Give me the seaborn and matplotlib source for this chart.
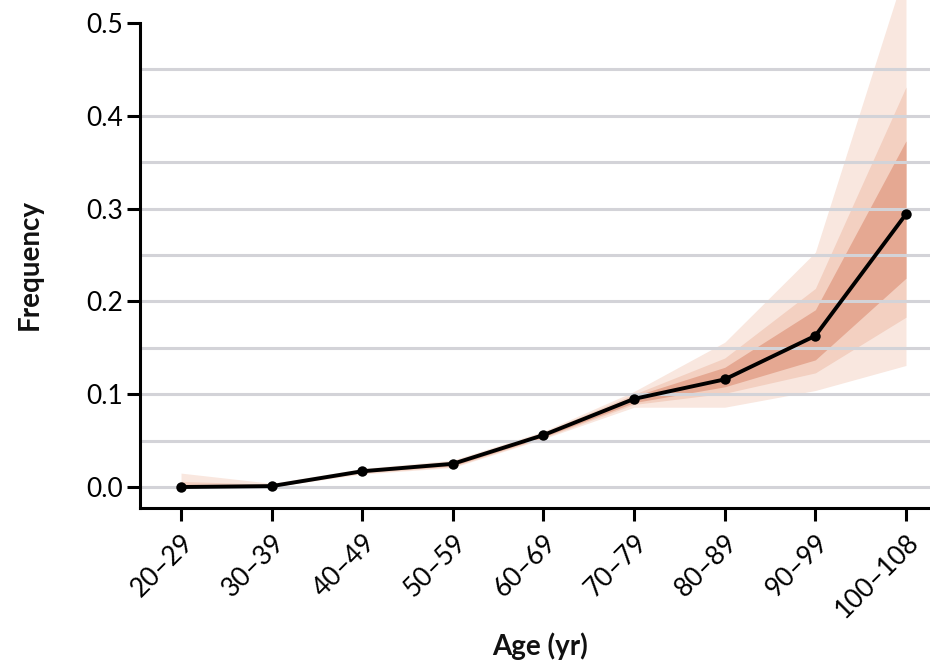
import numpy as np
import pandas as pd
import matplotlib
matplotlib.use("Agg")
import matplotlib.pyplot as plt
import seaborn as sns

ages = ["20–29", "30–39", "40–49", "50–59", "60–69", "70–79", "80–89", "90–99", "100–108"]
freq = [0.0, 0.001, 0.017, 0.025, 0.056, 0.095, 0.116, 0.163, 0.294]
outer_lo = [0.0, 0.0, 0.014, 0.021, 0.052, 0.086, 0.086, 0.104, 0.131]
outer_hi = [0.015, 0.004, 0.020, 0.029, 0.060, 0.103, 0.156, 0.253, 0.560]
mid_lo = [0.0, 0.0, 0.015, 0.022, 0.053, 0.089, 0.101, 0.123, 0.183]
mid_hi = [0.006, 0.003, 0.019, 0.028, 0.059, 0.100, 0.139, 0.214, 0.431]
inner_lo = [0.0, 0.0, 0.016, 0.023, 0.054, 0.091, 0.108, 0.137, 0.225]
inner_hi = [0.003, 0.002, 0.018, 0.027, 0.058, 0.098, 0.129, 0.191, 0.373]
yticks = [0.0, 0.1, 0.2, 0.3, 0.4, 0.5]
grid_vals = [0.0, 0.05, 0.10, 0.15, 0.20, 0.25, 0.30, 0.35, 0.40, 0.45]

sns.set_theme(style="white")
plt.rcParams['font.family'] = ['Lato', 'DejaVu Sans']
plt.rcParams['text.color'] = 'black'
plt.rcParams['axes.labelcolor'] = 'black'

df = pd.DataFrame({"pos": np.arange(len(ages)), "freq": freq})

fig = plt.figure(figsize=(9.3, 6.63), dpi=100)
ax = fig.add_axes([140/930, 1 - 508/663, 1 - 140/930, 508/663])

pos = df["pos"].values
ax.fill_between(pos, outer_lo, outer_hi, color="#f9e7df", lw=0, zorder=1)
ax.fill_between(pos, mid_lo, mid_hi, color="#f3d0c1", lw=0, zorder=1.1)
ax.fill_between(pos, inner_lo, inner_hi, color="#e5a892", lw=0, zorder=1.2)

for g in grid_vals:
    ax.axhline(g, color="#d3d3d8", lw=2.2, zorder=2)

sns.lineplot(data=df, x="pos", y="freq", ax=ax, color="black", lw=2.8,
             marker="o", markersize=7.5, markeredgewidth=0, zorder=3)

ax.set_xlim(-0.4525, 8.265)
ax.set_ylim(-0.0226, 0.5248)
ax.set_yticks(yticks)
ax.set_yticklabels([f"{v:.1f}" for v in yticks])
ax.set_xticks(pos)
ax.set_xticklabels(ages, rotation=45, ha="right", va="top", rotation_mode="anchor")

for side in ["top", "right"]:
    ax.spines[side].set_visible(False)
for side in ["left", "bottom"]:
    ax.spines[side].set_color("black")
    ax.spines[side].set_linewidth(2.2)
ax.spines["left"].set_bounds(-0.0226, 0.5)

ax.tick_params(axis="both", which="major", direction="out", length=9.5, width=2.2,
               color="black", labelsize=19, labelcolor="black", left=True, bottom=True)
ax.tick_params(axis="y", pad=3)
ax.tick_params(axis="x", pad=6)

ax.set_xlabel("Age (yr)", fontsize=20, fontweight="bold", ha="center", va="center", color="#111111")
ax.set_ylabel("Frequency", fontsize=20, fontweight="bold", ha="center", va="center", color="#111111")
ax.xaxis.set_label_coords((540 - 140) / 790, -(646 - 508) / 508)
ax.yaxis.set_label_coords((30 - 140) / 790, 1 - 265 / 508)
ax.grid(False)

fig.savefig("out.png", dpi=100)
